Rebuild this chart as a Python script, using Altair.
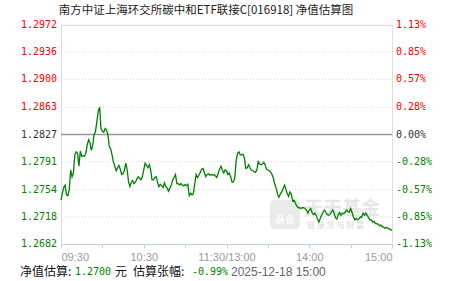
import altair as alt
import pandas as pd

title_text = "南方中证上海环交所碳中和ETF联接C[016918] 净值估算图"
prev_nav = 1.2827

minutes = list(range(241))
nav = [
    1.2740, 1.2749, 1.2757, 1.2760, 1.2747, 1.2746, 1.2754, 1.2780, 1.2771, 1.2776,
    1.2800, 1.2804, 1.2802, 1.2785, 1.2805, 1.2798, 1.2799, 1.2798, 1.2802, 1.2813,
    1.2820, 1.2816, 1.2806, 1.2813, 1.2827, 1.2831, 1.2844, 1.2858, 1.2863, 1.2835,
    1.2831, 1.2830, 1.2835, 1.2833, 1.2827, 1.2811, 1.2808, 1.2800, 1.2791, 1.2785,
    1.2779, 1.2783, 1.2786, 1.2781, 1.2774, 1.2775, 1.2780, 1.2789, 1.2780, 1.2764,
    1.2758, 1.2764, 1.2766, 1.2762, 1.2764, 1.2768, 1.2771, 1.2769, 1.2767, 1.2771,
    1.2780, 1.2789, 1.2786, 1.2783, 1.2787, 1.2780, 1.2767, 1.2767, 1.2770, 1.2771,
    1.2764, 1.2758, 1.2761, 1.2759, 1.2757, 1.2763, 1.2758, 1.2756, 1.2752, 1.2756,
    1.2760, 1.2767, 1.2770, 1.2774, 1.2762, 1.2762, 1.2760, 1.2762, 1.2760, 1.2759,
    1.2761, 1.2759, 1.2761, 1.2746, 1.2749, 1.2747, 1.2749, 1.2762, 1.2774, 1.2770,
    1.2773, 1.2777, 1.2781, 1.2782, 1.2776, 1.2771, 1.2774, 1.2775, 1.2773, 1.2774,
    1.2773, 1.2774, 1.2772, 1.2770, 1.2776, 1.2781, 1.2785, 1.2780, 1.2776, 1.2780,
    1.2779, 1.2774, 1.2776, 1.2771, 1.2764, 1.2764, 1.2770, 1.2792, 1.2802, 1.2804,
    1.2800, 1.2800, 1.2801, 1.2796, 1.2782, 1.2783, 1.2787, 1.2783, 1.2780, 1.2779,
    1.2778, 1.2777, 1.2780, 1.2791, 1.2788, 1.2787, 1.2788, 1.2790, 1.2787, 1.2781,
    1.2780, 1.2779, 1.2777, 1.2774, 1.2769, 1.2761, 1.2756, 1.2748, 1.2744, 1.2748,
    1.2751, 1.2755, 1.2760, 1.2755, 1.2749, 1.2745, 1.2751, 1.2748, 1.2739, 1.2740,
    1.2736, 1.2732, 1.2730, 1.2730, 1.2729, 1.2730, 1.2730, 1.2729, 1.2727, 1.2723,
    1.2727, 1.2729, 1.2724, 1.2721, 1.2723, 1.2720, 1.2715, 1.2711, 1.2716, 1.2720,
    1.2724, 1.2727, 1.2724, 1.2721, 1.2720, 1.2721, 1.2724, 1.2727, 1.2723, 1.2717,
    1.2715, 1.2721, 1.2724, 1.2720, 1.2723, 1.2722, 1.2724, 1.2727, 1.2725, 1.2724,
    1.2729, 1.2724, 1.2718, 1.2714, 1.2716, 1.2714, 1.2715, 1.2718, 1.2717, 1.2723,
    1.2720, 1.2723, 1.2720, 1.2717, 1.2714, 1.2714, 1.2711, 1.2712, 1.2709, 1.2709,
    1.2708, 1.2706, 1.2707, 1.2705, 1.2704, 1.2703, 1.2704, 1.2703, 1.2702, 1.2701,
    1.2700,
]

y_ticks = [1.2972, 1.2936, 1.2900, 1.2863, 1.2827, 1.2791, 1.2754, 1.2718, 1.2682]
y_tick_labels = ["1.2972", "1.2936", "1.2900", "1.2863", "1.2827",
                 "1.2791", "1.2754", "1.2718", "1.2682"]
pct_labels = ["1.13%", "0.85%", "0.57%", "0.28%", "0.00%",
              "-0.28%", "-0.57%", "-0.85%", "-1.13%"]
x_tick_minutes = [0, 60, 120, 180, 240]
x_tick_labels = ["09:30", "10:30", "11:30/13:00", "14:00", "15:00"]
x_minor_ticks = [0, 30, 60, 90, 120, 150, 180, 210, 240]

est_nav = "1.2700"
est_pct = "-0.99%"
est_time = "2025-12-18 15:00"

W, H = 331, 219
RED, GREEN, DARK = "#ff0000", "#008000", "#333333"
MONO = "DejaVu Sans Mono"
CJK = "Noto Sans CJK SC"

line_df = pd.DataFrame({"m": minutes, "nav": nav})
tick_df = pd.DataFrame({"v": y_ticks, "lab": y_tick_labels, "pct": pct_labels})
tick_df["dir"] = ["up" if v > prev_nav else ("down" if v < prev_nav else "flat") for v in y_ticks]

yscale = alt.Scale(domain=[y_ticks[-1], y_ticks[0]], zero=False, nice=False)
xscale = alt.Scale(domain=[0, 240], nice=False, zero=False)
dir_color = alt.Color("dir:N", scale=alt.Scale(domain=["up", "flat", "down"],
                                                 range=[RED, DARK, GREEN]), legend=None)

label_expr = " : ".join(
    f"datum.value == {m} ? '{l}'" for m, l in zip(x_tick_minutes, x_tick_labels)
) + " : ''"

# watermark
wm_box = alt.Chart(pd.DataFrame({"a": [0]})).mark_rect(
    color="#d9d9d9", opacity=0.55, cornerRadius=5
).encode(x=alt.value(270 - 61), x2=alt.value(300 - 61),
         y=alt.value(200 - 25), y2=alt.value(229 - 25))
wm_box_txt = alt.Chart(pd.DataFrame({"t": ["基金"]})).mark_text(
    font=CJK, fontSize=10, fontWeight="bold", color="#ffffff", opacity=0.9
).encode(x=alt.value(285 - 61), y=alt.value(220 - 25), text="t:N")
wm_big = alt.Chart(pd.DataFrame({"t": ["天天基金"]})).mark_text(
    font=CJK, fontSize=19, fontWeight="bold", color="#dcdcdc", opacity=0.7, align="left"
).encode(x=alt.value(304 - 61), y=alt.value(209 - 25), text="t:N")
wm_small = alt.Chart(pd.DataFrame({"t": ["链 接 您 与 财 富"]})).mark_text(
    font=CJK, fontSize=8, color="#d0d0d0", opacity=0.8, align="left"
).encode(x=alt.value(307 - 61), y=alt.value(226 - 25), text="t:N")

grid = alt.Chart(tick_df[(tick_df["dir"] != "flat") & (tick_df["v"] != y_ticks[-1])]).mark_rule(
    color="#d8d8d8", strokeDash=[1, 2], strokeWidth=1
).encode(y=alt.Y("v:Q", scale=yscale, axis=None), x=alt.value(0), x2=alt.value(W))

zero_line = alt.Chart(pd.DataFrame({"v": [prev_nav]})).mark_rule(
    color="#999999", strokeWidth=1.3
).encode(y=alt.Y("v:Q", scale=yscale, axis=None), x=alt.value(0), x2=alt.value(W))

line = alt.Chart(line_df).mark_line(color="#008000", strokeWidth=1.3).encode(
    x=alt.X("m:Q", scale=xscale, axis=alt.Axis(
        values=x_minor_ticks, labelExpr=label_expr, labelFlush=True, labelOverlap=False,
        grid=False, domainColor="#c3cfdd", tickColor="#c3cfdd", tickSize=4,
        labelColor="#9a9a9a", labelFont="Liberation Sans", labelFontSize=11,
        labelPadding=3, title=None)),
    y=alt.Y("nav:Q", scale=yscale, axis=None),
)

left_labels = alt.Chart(tick_df).mark_text(
    align="right", baseline="middle", font=MONO, fontSize=10
).encode(y=alt.Y("v:Q", scale=yscale, axis=None), x=alt.value(-4),
         text="lab:N", color=dir_color)

right_labels = alt.Chart(tick_df).mark_text(
    align="left", baseline="middle", font=MONO, fontSize=10
).encode(y=alt.Y("v:Q", scale=yscale, axis=None), x=alt.value(335),
         text="pct:N", color=dir_color)

title = alt.Chart(pd.DataFrame({"t": [title_text]})).mark_text(
    font=CJK, fontSize=11.5, color="#222222", align="center", baseline="middle"
).encode(x=alt.value(206 - 61), y=alt.value(11 - 25), text="t:N")

foot_y = 271.5 - 25
foot_parts = [
    ("净值估算:", 20, CJK, 12, "#111111"),
    (est_nav, 75, MONO, 10, GREEN),
    ("元", 115, CJK, 12, "#111111"),
    ("估算张幅:", 133, CJK, 12, "#111111"),
    (est_pct, 192, MONO, 10, GREEN),
    (est_time, 231, "Liberation Sans", 12, "#666666"),
]
foot_layers = [
    alt.Chart(pd.DataFrame({"t": [t]})).mark_text(
        font=f, fontSize=s, color=c, align="left", baseline="middle"
    ).encode(x=alt.value(px - 61), y=alt.value(foot_y), text="t:N")
    for t, px, f, s, c in foot_parts
]

chart = alt.layer(
    wm_box, wm_box_txt, wm_big, wm_small, grid, zero_line, line,
    left_labels, right_labels, title, *foot_layers
).properties(
    width=W, height=H,
    autosize=alt.AutoSizeParams(type="none"),
    padding={"left": 61, "top": 25, "right": 59, "bottom": 37},
).configure_view(stroke=None).configure(background="white")

chart.save("out.html", embed_options={"renderer": "svg", "actions": False})
